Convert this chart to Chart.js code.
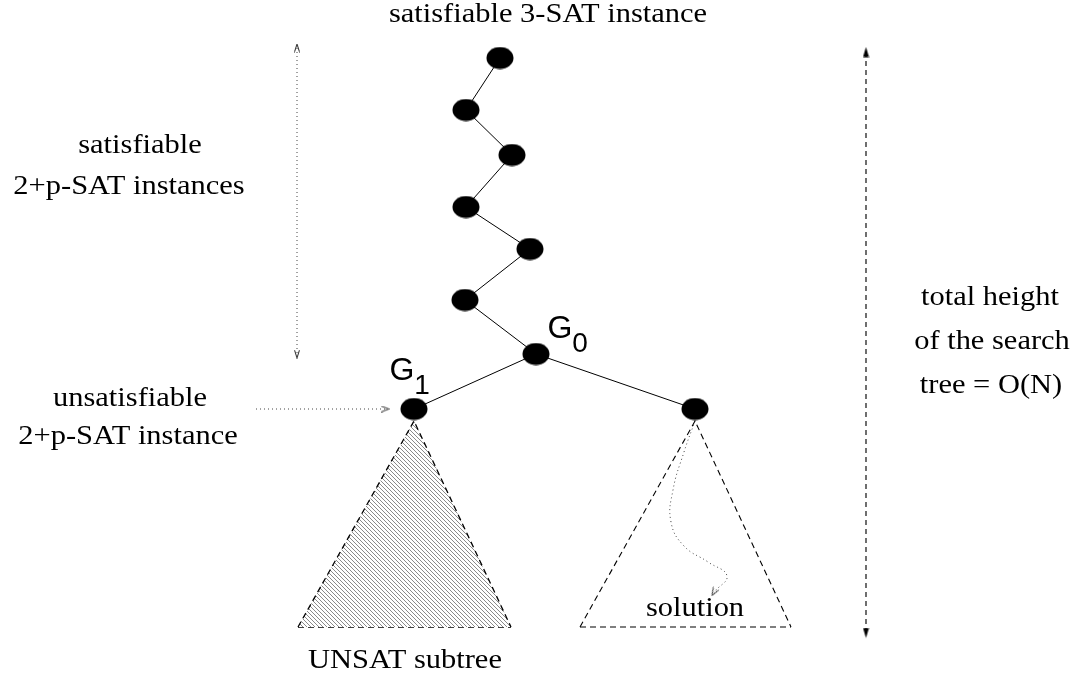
<!DOCTYPE html>
<html>
<head>
<meta charset="utf-8">
<script src="https://cdn.jsdelivr.net/npm/chart.js@4.4.1/dist/chart.umd.min.js"></script>
<style>
html,body{margin:0;padding:0;background:#fff;}
#wrap{width:1075px;height:676px;}
</style>
</head>
<body>
<div id="wrap"><canvas id="c" width="1075" height="676"></canvas></div>
<script>
// ---- data (diagram coordinates, x right, y down) ----
const nodeX = [500, 466, 512, 466, 530, 465, 536, 414, 695];
const nodeY = [58, 110, 155, 207, 249, 300, 354, 409, 409];
const chainIdx = [0, 1, 2, 3, 4, 5, 6, 7];
const branchIdx = [6, 8];

const leftTriX = [298, 414, 511];
const leftTriY = [627, 421, 627];
const rightTriX = [580, 695, 791];
const rightTriY = [627, 421, 627];

const pathX = [695, 684, 673, 671, 684, 708, 727, 714];
const pathY = [421, 452, 490, 522, 546, 562, 576, 592];

const satArrowX = [297, 297];
const satArrowY = [48, 354];
const heightArrowX = [866, 866];
const heightArrowY = [52, 633];
const unsatArrowX = [256, 385];
const unsatArrowY = [409, 409];

const labelText = ['satisfiable 3-SAT instance', 'satisfiable', '2+p-SAT instances',
  'unsatisfiable', '2+p-SAT instance', 'total height', 'of the search', 'tree = O(N)',
  'solution', 'UNSAT subtree'];
const labelX = [548, 140, 129, 130, 128, 990, 992, 991, 695, 405];
const labelY = [15, 146, 187, 399, 437, 298, 342, 386, 609, 661];

const gText = ['G', 'G'];
const gSub = ['0', '1'];
const gX = [560, 402];
const gY = [338, 380];

// ---- helpers ----
function pts(xs, ys) { return xs.map((x, i) => ({x: x, y: ys[i]})); }

function ellipseImg(w, h) {
  const c = document.createElement('canvas');
  c.width = w; c.height = h;
  const g = c.getContext('2d');
  g.fillStyle = '#000';
  g.beginPath();
  g.ellipse(w / 2, h / 2, w / 2 - 0.5, h / 2 - 0.5, 0, 0, Math.PI * 2);
  g.fill();
  return c;
}
function chevron(w, h, filled, color) {
  // pointing up
  const c = document.createElement('canvas');
  c.width = w; c.height = h;
  const g = c.getContext('2d');
  g.strokeStyle = color; g.fillStyle = color; g.lineWidth = 1;
  g.beginPath();
  g.moveTo(0.5, h - 0.5); g.lineTo(w / 2, 0.5); g.lineTo(w - 0.5, h - 0.5);
  if (filled) { g.closePath(); g.fill(); } else { g.stroke(); }
  return c;
}
function hatch() {
  const c = document.createElement('canvas');
  c.width = 4; c.height = 4;
  const g = c.getContext('2d');
  g.fillStyle = '#fff'; g.fillRect(0, 0, 4, 4);
  g.strokeStyle = '#8a8a8a'; g.lineWidth = 1;
  g.beginPath();
  g.moveTo(-1, -1); g.lineTo(5, 5);
  g.moveTo(-1, 3); g.lineTo(1, 5);
  g.moveTo(3, -1); g.lineTo(5, 1);
  g.stroke();
  return document.getElementById('c').getContext('2d').createPattern(c, 'repeat');
}

const nodeImg = ellipseImg(28, 23);
const openHead = chevron(6, 9, false, '#222');
const filledHead = chevron(7, 11, true, '#000');
const smallHead = chevron(7, 9, false, '#333');

const labelPlugin = {
  id: 'labels',
  afterDatasetsDraw(chart) {
    const ctx = chart.ctx, xs = chart.scales.x, ys = chart.scales.y;
    ctx.save();
    ctx.fillStyle = '#000';
    ctx.textAlign = 'center';
    ctx.textBaseline = 'middle';
    ctx.font = '26.5px "Liberation Serif", "Times New Roman", serif';
    labelText.forEach((t, i) => {
      ctx.save();
      ctx.translate(xs.getPixelForValue(labelX[i]), ys.getPixelForValue(labelY[i]));
      ctx.scale(1.15, 1);
      ctx.fillText(t, 0, 0);
      ctx.restore();
    });
    ctx.textBaseline = 'alphabetic';
    gText.forEach((t, i) => {
      const px = xs.getPixelForValue(gX[i]), py = ys.getPixelForValue(gY[i]);
      ctx.font = '32px "Liberation Sans", Arial, sans-serif';
      ctx.fillText(t, px, py);
      ctx.font = '28px "Liberation Sans", Arial, sans-serif';
      ctx.fillText(gSub[i], px + 20, py + 14);
    });
    ctx.restore();
  }
};

const lineBase = {showLine: true, pointRadius: 0, borderColor: '#000', borderWidth: 1, fill: false};

new Chart(document.getElementById('c'), {
  type: 'scatter',
  data: {
    datasets: [
      Object.assign({}, lineBase, {data: pts(leftTriX, leftTriY), backgroundColor: hatch(),
        fill: {value: 627}, borderDash: [6, 4], borderWidth: 1.3}),
      Object.assign({}, lineBase, {data: pts([leftTriX[0], leftTriX[2]], [leftTriY[0], leftTriY[2]]),
        borderDash: [6, 4], borderWidth: 1.3}),
      Object.assign({}, lineBase, {data: pts(rightTriX, rightTriY), borderDash: [6, 4], borderWidth: 1.1}),
      Object.assign({}, lineBase, {data: pts([rightTriX[0], rightTriX[2]], [rightTriY[0], rightTriY[2]]),
        borderDash: [6, 4], borderWidth: 1.1}),
      Object.assign({}, lineBase, {data: pts(pathX, pathY), borderDash: [1, 3], borderColor: '#444',
        tension: 0.45}),
      Object.assign({}, lineBase, {data: pts(chainIdx.map(i => nodeX[i]), chainIdx.map(i => nodeY[i]))}),
      Object.assign({}, lineBase, {data: pts(branchIdx.map(i => nodeX[i]), branchIdx.map(i => nodeY[i]))}),
      Object.assign({}, lineBase, {data: pts(satArrowX, satArrowY), borderDash: [1, 3], borderColor: '#444',
        pointRadius: 5, pointStyle: openHead, pointRotation: [0, 180]}),
      Object.assign({}, lineBase, {data: pts(heightArrowX, heightArrowY), borderDash: [5, 4], borderColor: '#222',
        borderWidth: 1.3, pointRadius: 5, pointStyle: filledHead, pointRotation: [0, 180]}),
      Object.assign({}, lineBase, {data: pts(unsatArrowX, unsatArrowY), borderDash: [1, 3], borderColor: '#444',
        pointRadius: [0, 5], pointStyle: smallHead, pointRotation: [0, 90]}),
      {data: pts([pathX[pathX.length - 1]], [pathY[pathY.length - 1]]), showLine: false,
        pointRadius: 5, pointStyle: smallHead, pointRotation: 210},
      {data: pts(nodeX, nodeY), showLine: false, pointRadius: 13, pointStyle: nodeImg}
    ]
  },
  options: {
    responsive: false,
    animation: false,
    events: [],
    layout: {padding: 0, autoPadding: false},
    plugins: {legend: {display: false}, tooltip: {enabled: false}, title: {display: false}},
    scales: {
      x: {type: 'linear', min: 0, max: 1075, display: false},
      y: {type: 'linear', min: 0, max: 676, reverse: true, display: false}
    }
  },
  plugins: [labelPlugin]
});
</script>
</body>
</html>
